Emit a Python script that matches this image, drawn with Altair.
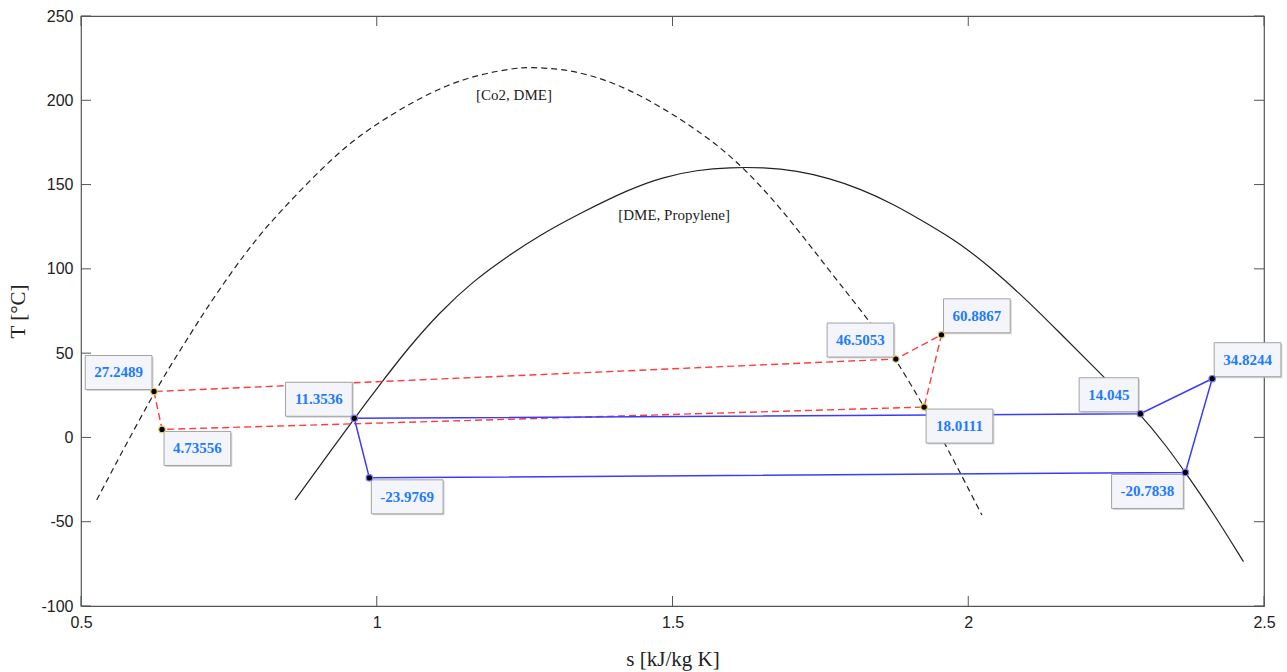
import altair as alt
import pandas as pd

# ---- saturation domes ----
co2_s = [0.5265, 0.6234, 0.6787, 0.7068, 0.7519, 0.7971, 0.8365, 0.8928, 0.9493, 1.0056,
         1.0619, 1.1184, 1.1747, 1.2310, 1.2592, 1.3155, 1.3720, 1.4283, 1.4846, 1.5411,
         1.5974, 1.6537, 1.7102, 1.7665, 1.8228, 1.8397, 1.8776, 1.9254, 1.9609, 2.0230]
co2_T = [-37.1, 27.2, 57.8, 73.6, 97.0, 118.1, 133.9, 154.5, 173.5, 187.3,
         199.2, 209.1, 215.4, 219.0, 219.6, 218.6, 214.0, 206.1, 195.2, 182.5,
         167.5, 147.8, 124.1, 98.3, 73.5, 65.5, 46.5, 18.0, -3.5, -46.0]

prop_s = [0.8619, 0.9620, 1.0112, 1.0507, 1.1070, 1.1633, 1.2198, 1.2761, 1.3438, 1.4283,
          1.4846, 1.5411, 1.5974, 1.6537, 1.7102, 1.7665, 1.8172, 1.8735, 1.9300, 1.9863,
          2.0426, 2.0991, 2.1554, 2.2117, 2.2910, 2.3358, 2.3670, 2.4146, 2.4653]
prop_T = [-37.1, 11.35, 34.0, 52.0, 74.5, 92.8, 107.2, 120.1, 133.0, 147.5,
          154.5, 158.6, 160.2, 160.2, 158.2, 153.7, 147.5, 138.5, 127.0, 115.2,
          99.3, 81.5, 61.8, 42.0, 14.05, -5.5, -20.78, -45.0, -73.7]

# ---- cycles ----
red_s = [0.6234, 0.6370, 1.9254, 1.9547, 1.8776, 0.6234]
red_T = [27.2489, 4.73556, 18.0111, 60.8867, 46.5053, 27.2489]
blue_s = [0.9620, 0.9875, 2.3670, 2.4124, 2.2910, 0.9620]
blue_T = [11.3536, -23.9769, -20.7838, 34.8244, 14.045, 11.3536]

# ---- data tips ----
tip_s = [0.6234, 0.6370, 1.9254, 1.9547, 1.8776, 0.9620, 0.9875, 2.3670, 2.4124, 2.2910]
tip_T = [27.2489, 4.73556, 18.0111, 60.8867, 46.5053, 11.3536, -23.9769, -20.7838, 34.8244, 14.045]
tip_text = ["27.2489", "4.73556", "18.0111", "60.8867", "46.5053",
            "11.3536", "-23.9769", "-20.7838", "34.8244", "14.045"]
tip_cycle = ["red"] * 5 + ["blue"] * 5
tip_anchor = ["ul", "dr", "dr", "ur", "ul", "ul", "dr", "dl", "ur", "ul"]

# ---- curve labels ----
ann_text = ["[Co2, DME]", "[DME, Propylene]"]
ann_s = [1.232, 1.5027]
ann_T = [203.1, 131.9]

x_ticks = [0.5, 1.0, 1.5, 2.0, 2.5]
y_ticks = [-100, -50, 0, 50, 100, 150, 200, 250]

W, H = 1183, 590
xs = alt.Scale(domain=[0.5, 2.5], nice=False, zero=False)
ys = alt.Scale(domain=[-100, 250], nice=False, zero=False)

co2_df = pd.DataFrame({"s": co2_s, "T": co2_T, "o": range(len(co2_s))})
prop_df = pd.DataFrame({"s": prop_s, "T": prop_T, "o": range(len(prop_s))})
red_df = pd.DataFrame({"s": red_s, "T": red_T, "o": range(len(red_s))})
blue_df = pd.DataFrame({"s": blue_s, "T": blue_T, "o": range(len(blue_s))})
tip_df = pd.DataFrame({"s": tip_s, "T": tip_T, "label": tip_text, "cycle": tip_cycle})
ann_df = pd.DataFrame({"s": ann_s, "T": ann_T, "label": ann_text})

common_axis = dict(grid=False, ticks=False, domain=False, labelFont="Liberation Sans",
                   labelFontSize=16, labelColor="#222", labelPadding=8, labelFlush=False,
                   labelExpr="'' + datum.value",
                   titleFont="Liberation Serif", titleFontSize=21,
                   titleFontWeight="normal", titleColor="#222")
x_axis = alt.Axis(values=x_ticks, title="s [kJ/kg K]", titlePadding=18, **common_axis)
y_axis = alt.Axis(values=y_ticks, title="T [°C]", titlePadding=12, **common_axis)
X = alt.X("s:Q", scale=xs, axis=x_axis)
Y = alt.Y("T:Q", scale=ys, axis=y_axis)

co2_line = alt.Chart(co2_df).mark_line(color="#222", strokeWidth=1.2, strokeDash=[6, 4],
                                       interpolate="basis").encode(x=X, y=Y, order="o:Q")
prop_line = alt.Chart(prop_df).mark_line(color="#222", strokeWidth=1.2,
                                         interpolate="basis").encode(x=X, y=Y, order="o:Q")
red_line = alt.Chart(red_df).mark_line(color="#ff3b3b", strokeWidth=1.4,
                                       strokeDash=[7, 4]).encode(x=X, y=Y, order="o:Q")
blue_line = alt.Chart(blue_df).mark_line(color="#3b3bff", strokeWidth=1.5).encode(
    x=X, y=Y, order="o:Q")

ann = alt.Chart(ann_df).mark_text(font="Liberation Serif", fontSize=15, color="#222").encode(
    x=X, y=Y, text="label:N")

# tick marks inward on all four sides
xt_df = pd.DataFrame({"s": x_ticks})
yt_df = pd.DataFrame({"T": y_ticks})
tick_style = dict(color="#555", strokeWidth=1)
t_top = alt.Chart(xt_df).mark_rule(**tick_style).encode(x=X, y=alt.value(0), y2=alt.value(10))
t_bot = alt.Chart(xt_df).mark_rule(**tick_style).encode(x=X, y=alt.value(H), y2=alt.value(H - 10))
t_left = alt.Chart(yt_df).mark_rule(**tick_style).encode(y=Y, x=alt.value(0), x2=alt.value(10))
t_right = alt.Chart(yt_df).mark_rule(**tick_style).encode(y=Y, x=alt.value(W), x2=alt.value(W - 10))

# data tip boxes
def text_w(t, fs=15):
    w = 0.0
    for ch in t:
        w += 0.25 if ch == "." else (0.333 if ch == "-" else 0.5)
    return w * fs

gap, bh = 2, 34
boxes, texts = [], []
for i in range(len(tip_text)):
    bw = text_w(tip_text[i]) + 18
    a = tip_anchor[i]
    if a[1] == "l":
        x0, x1 = -gap - bw, -gap
    else:
        x0, x1 = gap, gap + bw
    if a[0] == "u":
        y0, y1 = -gap - bh, -gap
    else:
        y0, y1 = gap, gap + bh
    one = tip_df.iloc[[i]]
    boxes.append(alt.Chart(one).mark_rect(
        fill="#b8b8b8", opacity=0.6, xOffset=x0 + 1.5, x2Offset=x1 + 1.5,
        yOffset=y0 + 1.5, y2Offset=y1 + 1.5).encode(
        x=X, x2="s:Q", y=Y, y2="T:Q"))
    boxes.append(alt.Chart(one).mark_rect(
        fill="#f3f5fb", stroke="#a3a3a3", strokeWidth=1, xOffset=x0, x2Offset=x1,
        yOffset=y0, y2Offset=y1).encode(x=X, x2="s:Q", y=Y, y2="T:Q"))
    texts.append(alt.Chart(one).mark_text(
        font="Liberation Serif", fontWeight="bold", fontSize=15, color="#1f7bff",
        dx=(x0 + x1) / 2, dy=(y0 + y1) / 2, align="center", baseline="middle").encode(
        x=X, y=Y, text="label:N"))

pts = alt.Chart(tip_df).mark_point(filled=True, size=42, fill="black", strokeWidth=1.2,
                                   opacity=1).encode(
    x=X, y=Y,
    stroke=alt.Stroke("cycle:N", scale=alt.Scale(domain=["red", "blue"],
                                                 range=["#e6cf6a", "#7a7aff"]), legend=None))

chart = alt.layer(co2_line, prop_line, red_line, blue_line, ann,
                  t_top, t_bot, t_left, t_right, *boxes, *texts, pts).properties(
    width=W, height=H,
    padding={"left": 81, "top": 16, "right": 23, "bottom": 66},
    autosize=alt.AutoSizeParams(type="none"),
    background="white",
).configure_view(stroke="#555", strokeWidth=1.2)

chart.save("out.html", embed_options={"renderer": "svg", "actions": False})
